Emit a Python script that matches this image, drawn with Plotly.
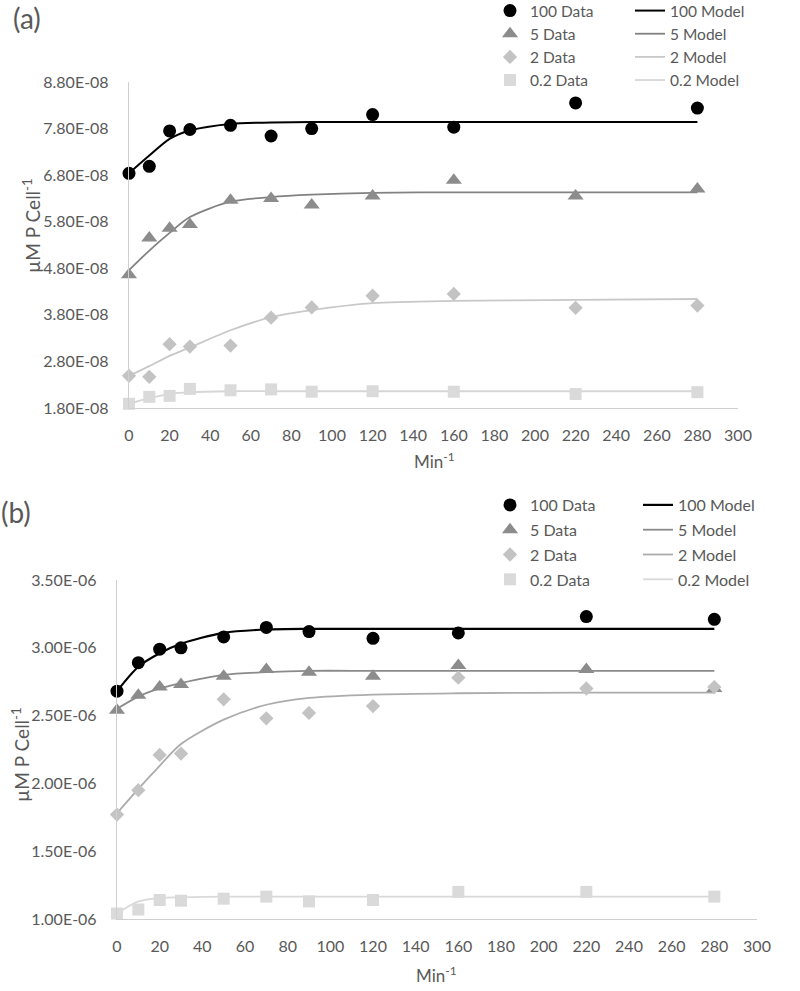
import plotly.graph_objects as go

# ---------------- data ----------------
minutes = [0, 10, 20, 30, 50, 70, 90, 120, 160, 220, 280]

# Panel (a)  (uM P cell^-1)
a_100_data = [6.84e-8, 6.99e-8, 7.75e-8, 7.78e-8, 7.87e-8, 7.64e-8, 7.80e-8, 8.10e-8, 7.83e-8, 8.35e-8, 8.24e-8]
a_100_model = [6.84e-8, 7.22e-8, 7.58e-8, 7.76e-8, 7.90e-8, 7.93e-8, 7.94e-8, 7.94e-8, 7.94e-8, 7.94e-8, 7.94e-8]
a_5_data = [4.66e-8, 5.45e-8, 5.66e-8, 5.74e-8, 6.26e-8, 6.30e-8, 6.16e-8, 6.35e-8, 6.69e-8, 6.35e-8, 6.50e-8]
a_5_model = [4.76e-8, 5.18e-8, 5.56e-8, 5.90e-8, 6.23e-8, 6.33e-8, 6.38e-8, 6.42e-8, 6.43e-8, 6.43e-8, 6.43e-8]
a_2_data = [2.49e-8, 2.47e-8, 3.17e-8, 3.12e-8, 3.14e-8, 3.74e-8, 3.96e-8, 4.21e-8, 4.25e-8, 3.95e-8, 4.00e-8]
a_2_model = [2.49e-8, 2.70e-8, 2.92e-8, 3.10e-8, 3.47e-8, 3.75e-8, 3.90e-8, 4.05e-8, 4.10e-8, 4.12e-8, 4.14e-8]
a_02_data = [1.89e-8, 2.04e-8, 2.06e-8, 2.21e-8, 2.18e-8, 2.20e-8, 2.15e-8, 2.16e-8, 2.15e-8, 2.10e-8, 2.14e-8]
a_02_model = [1.89e-8, 2.01e-8, 2.10e-8, 2.14e-8, 2.16e-8, 2.16e-8, 2.16e-8, 2.16e-8, 2.16e-8, 2.16e-8, 2.16e-8]

# Panel (b)
b_100_data = [2.68e-6, 2.89e-6, 2.99e-6, 3.00e-6, 3.08e-6, 3.15e-6, 3.12e-6, 3.07e-6, 3.11e-6, 3.23e-6, 3.21e-6]
b_100_model = [2.68e-6, 2.86e-6, 2.96e-6, 3.03e-6, 3.11e-6, 3.135e-6, 3.14e-6, 3.14e-6, 3.14e-6, 3.14e-6, 3.14e-6]
b_5_data = [2.54e-6, 2.65e-6, 2.71e-6, 2.73e-6, 2.79e-6, 2.84e-6, 2.82e-6, 2.79e-6, 2.87e-6, 2.84e-6, 2.70e-6]
b_5_model = [2.55e-6, 2.64e-6, 2.70e-6, 2.74e-6, 2.80e-6, 2.82e-6, 2.83e-6, 2.83e-6, 2.83e-6, 2.83e-6, 2.83e-6]
b_2_data = [1.77e-6, 1.95e-6, 2.21e-6, 2.22e-6, 2.62e-6, 2.48e-6, 2.52e-6, 2.57e-6, 2.78e-6, 2.70e-6, 2.71e-6]
b_2_model = [1.78e-6, 1.96e-6, 2.13e-6, 2.29e-6, 2.47e-6, 2.58e-6, 2.63e-6, 2.655e-6, 2.665e-6, 2.67e-6, 2.67e-6]
b_02_data = [1.04e-6, 1.07e-6, 1.14e-6, 1.135e-6, 1.15e-6, 1.165e-6, 1.13e-6, 1.14e-6, 1.20e-6, 1.20e-6, 1.165e-6]
b_02_model = [1.04e-6, 1.13e-6, 1.155e-6, 1.16e-6, 1.165e-6, 1.165e-6, 1.165e-6, 1.165e-6, 1.165e-6, 1.165e-6, 1.165e-6]

x_ticks = list(range(0, 301, 20))
a_yticks = [1.8e-8, 2.8e-8, 3.8e-8, 4.8e-8, 5.8e-8, 6.8e-8, 7.8e-8, 8.8e-8]
a_yticktext = ["1.80E-08", "2.80E-08", "3.80E-08", "4.80E-08", "5.80E-08", "6.80E-08", "7.80E-08", "8.80E-08"]
b_yticks = [1.0e-6, 1.5e-6, 2.0e-6, 2.5e-6, 3.0e-6, 3.5e-6]
b_yticktext = ["1.00E-06", "1.50E-06", "2.00E-06", "2.50E-06", "3.00E-06", "3.50E-06"]

# ---------------- styling ----------------
W, H = 800, 991
FONT = "Lato, 'Noto Sans', sans-serif"
TXT = "#595959"
AXC = "#d0d0d0"

def px(x):
    return x / W

def py(y):
    return 1 - y / H

fig = go.Figure()

series_a = [
    ("100", a_100_data, a_100_model, "circle", "#000000", 13, "#000000", 2.0),
    ("5", a_5_data, a_5_model, "triangle-up", "#8c8c8c", 14, "#828282", 1.8),
    ("2", a_2_data, a_2_model, "diamond", "#c3c3c3", 11, "#c8c8c8", 1.8),
    ("0.2", a_02_data, a_02_model, "square", "#dadada", 12, "#d6d6d6", 1.8),
]
series_b = [
    ("100", b_100_data, b_100_model, "circle", "#000000", 13, "#000000", 2.2),
    ("5", b_5_data, b_5_model, "triangle-up", "#8c8c8c", 14, "#8a8a8a", 1.8),
    ("2", b_2_data, b_2_model, "diamond", "#c3c3c3", 11, "#acacac", 1.8),
    ("0.2", b_02_data, b_02_model, "square", "#dadada", 12, "#d9d9d9", 1.8),
]

def add_panel(series, xa, ya, leg_d, leg_m):
    for name, d, m, sym, mc, ms, lc, lw in series:
        fig.add_trace(go.Scatter(
            x=minutes, y=m, mode="lines", name=f"{name} Model",
            line=dict(color=lc, width=lw, shape="spline", smoothing=0.8),
            xaxis=xa, yaxis=ya, legend=leg_m, legendgroup=f"{leg_m}{name}",
            cliponaxis=False, hoverinfo="skip"))
    for name, d, m, sym, mc, ms, lc, lw in series:
        fig.add_trace(go.Scatter(
            x=minutes, y=d, mode="markers", name=f"{name} Data",
            marker=dict(symbol=sym, color=mc, size=ms, line=dict(width=0)),
            xaxis=xa, yaxis=ya, legend=leg_d, legendgroup=f"{leg_d}{name}",
            cliponaxis=False))

add_panel(series_a, "x", "y", "legend", "legend2")
add_panel(series_b, "x2", "y2", "legend3", "legend4")

def axis_common():
    return dict(showgrid=False, zeroline=False, showline=True, linecolor=AXC, linewidth=1.3,
                ticks="", automargin=False, tickfont=dict(family=FONT, size=16, color=TXT))

fig.update_layout(
    xaxis=dict(domain=[px(129), px(738)], range=[0, 300], tickvals=x_ticks, anchor="y",
               ticklabelstandoff=13, **axis_common()),
    yaxis=dict(domain=[py(408), py(82)], range=[1.8e-8, 8.8e-8], tickvals=a_yticks,
               ticktext=a_yticktext, anchor="x", ticklabelstandoff=16, **axis_common()),
    xaxis2=dict(domain=[px(117), px(757)], range=[0, 300], tickvals=x_ticks, anchor="y2",
                ticklabelstandoff=13, **axis_common()),
    yaxis2=dict(domain=[py(919), py(580)], range=[1.0e-6, 3.5e-6], tickvals=b_yticks,
                ticktext=b_yticktext, anchor="x2", ticklabelstandoff=16, **axis_common()),
)

def legend_cfg(xl, ytop, gap, size):
    return dict(x=px(xl), y=py(ytop), xanchor="left", yanchor="top", bgcolor="rgba(0,0,0,0)",
                font=dict(family=FONT, size=size, color=TXT), traceorder="grouped",
                tracegroupgap=gap, itemclick=False, itemdoubleclick=False)

fig.update_layout(
    legend=legend_cfg(490, -6, 0, 15.5),
    legend2=legend_cfg(630, -6, 0, 15.5),
    legend3=legend_cfg(490, 488, 1, 16),
    legend4=legend_cfg(638, 488, 1, 16),
)

ann = [
    dict(text="(a)", x=px(11), y=py(18), xanchor="left", yanchor="middle", size=28),
    dict(text="(b)", x=px(-1), y=py(512), xanchor="left", yanchor="middle", size=28),
    dict(text="Min<sup>-1</sup>", x=px(434), y=py(461), xanchor="center", yanchor="middle", size=17),
    dict(text="Min<sup>-1</sup>", x=px(436), y=py(974), xanchor="center", yanchor="middle", size=17),
]
for a in ann:
    fig.add_annotation(text=a["text"], x=a["x"], y=a["y"], xref="paper", yref="paper",
                       xanchor=a["xanchor"], yanchor=a["yanchor"], showarrow=False,
                       font=dict(family=FONT, size=a["size"], color=TXT))
for xc, yc in [(31, 226), (20, 755)]:
    fig.add_annotation(text="µM P Cell<sup>-1</sup>", x=px(xc), y=py(yc), xref="paper", yref="paper",
                       textangle=-90, showarrow=False, xanchor="center", yanchor="middle",
                       font=dict(family=FONT, size=19, color=TXT))

fig.update_layout(width=W, height=H, margin=dict(l=0, r=0, t=0, b=0, autoexpand=False),
                  paper_bgcolor="white", plot_bgcolor="white", showlegend=True)

fig.write_html("out.html", config={"displayModeBar": False},
               post_script="document.body.style.margin='0';document.body.style.overflow='hidden';")
